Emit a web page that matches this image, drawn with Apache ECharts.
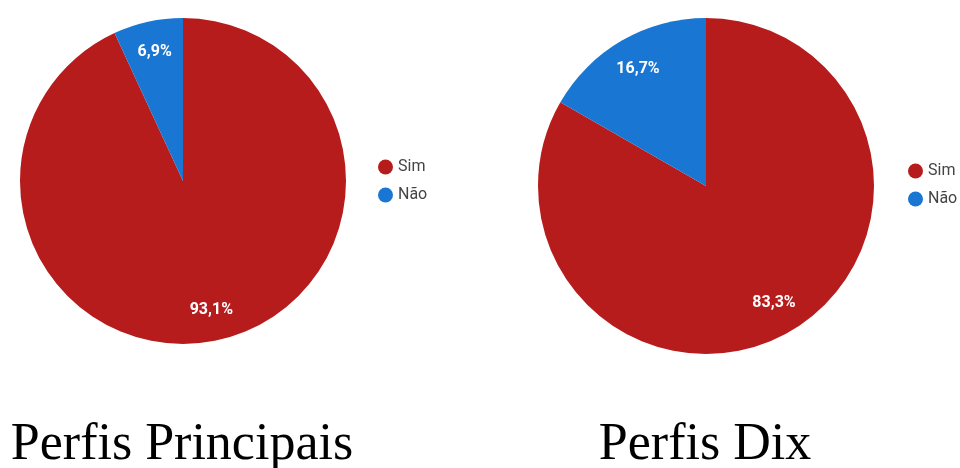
<!DOCTYPE html>
<html>
<head>
<meta charset="utf-8">
<script src="https://cdn.jsdelivr.net/npm/echarts@6/dist/echarts.min.js"></script>
<style>
  html, body { margin: 0; padding: 0; background: #fff; }
  #chart { width: 960px; height: 468px; }
</style>
</head>
<body>
<div id="chart"></div>
<script>
// Answer categories and percentages for each pie
const categories = ['Sim', 'Não']
const principaisValues = [93.1, 6.9]
const dixValues = [83.3, 16.7]
const chartTitles = ['Perfis Principais', 'Perfis Dix']

const sliceColors = ['#b71c1c', '#1976d2']

const chartInstance = echarts.init(document.getElementById('chart'))

// Format 93.1 -> "93,1%"
const formatPercent = function (params) {
  return String(params.value).replace('.', ',') + '%'
}

const toData = values => values.map((v, i) => ({ name: categories[i], value: v }))

// Build a filled pie plus a transparent ring that only carries the labels
// (so labels sit around 80% of the radius like the original)
function pieSeries(values, center, radius) {
  return [
    {
      type: 'pie',
      center: center,
      radius: [0, radius],
      startAngle: 90,
      clockwise: true,
      color: sliceColors,
      data: toData(values),
      label: { show: false },
      labelLine: { show: false },
      emphasis: { disabled: true },
      animation: false
    },
    {
      type: 'pie',
      center: center,
      radius: [radius * 0.58, radius],
      startAngle: 90,
      clockwise: true,
      data: toData(values),
      itemStyle: { color: 'rgba(0,0,0,0)' },
      label: {
        show: true,
        position: 'inside',
        formatter: formatPercent,
        color: '#ffffff',
        fontFamily: 'Roboto',
        fontWeight: 'bold',
        fontSize: 16
      },
      labelLine: { show: false },
      emphasis: { disabled: true },
      silent: true,
      animation: false
    }
  ]
}

const legendStyle = {
  orient: 'vertical',
  data: categories,
  icon: 'circle',
  itemWidth: 15,
  itemHeight: 15,
  itemGap: 12,
  selectedMode: false,
  textStyle: { fontFamily: 'Roboto', fontSize: 16, color: '#444' }
}

const titleStyle = {
  fontFamily: 'Liberation Serif',
  fontWeight: 'normal',
  fontSize: 52,
  color: '#000'
}

const option = {
  backgroundColor: '#fff',
  title: [
    { text: chartTitles[0], left: 177, top: 414, textAlign: 'center', textStyle: titleStyle },
    { text: chartTitles[1], left: 700, top: 414, textAlign: 'center', textStyle: titleStyle }
  ],
  legend: [
    Object.assign({ left: 373, top: 154 }, legendStyle),
    Object.assign({ left: 903, top: 158 }, legendStyle)
  ],
  series: [
    ...pieSeries(principaisValues, [183, 181], 163),
    ...pieSeries(dixValues, [706, 186], 168)
  ]
}

chartInstance.setOption(option)
</script>
</body>
</html>
